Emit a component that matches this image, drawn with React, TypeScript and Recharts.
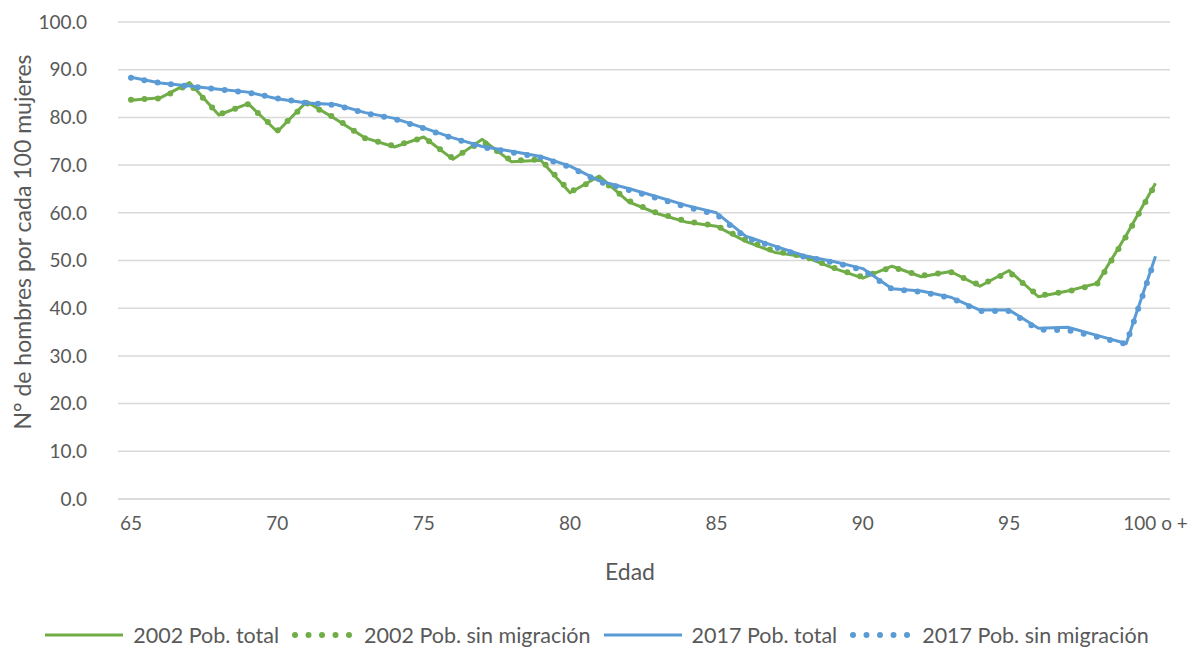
import React from 'react';
import { LineChart, Line, XAxis, YAxis, CartesianGrid, Legend, Label } from 'recharts';

const ages: string[] = [
  '65', '66', '67', '68', '69', '70', '71', '72', '73', '74', '75', '76', '77', '78', '79',
  '80', '81', '82', '83', '84', '85', '86', '87', '88', '89', '90', '91', '92', '93', '94',
  '95', '96', '97', '98', '99', '100 o +',
];

const total2002: number[] = [
  83.6, 84.1, 87.3, 80.5, 82.9, 77.0, 83.3, 79.6, 75.7, 73.8, 75.9, 71.2, 75.4, 70.7, 71.0,
  64.2, 67.7, 62.3, 59.8, 58.0, 57.2, 54.0, 51.7, 50.8, 48.4, 46.3, 48.8, 46.6, 47.7, 44.6,
  47.9, 42.4, 43.6, 45.2, 55.3, 66.2,
];

const sinMig2002: number[] = [
  83.7, 84.0, 87.0, 80.6, 82.8, 77.2, 83.0, 79.8, 75.6, 74.0, 75.8, 71.4, 75.0, 70.9, 71.2,
  64.4, 67.3, 62.5, 59.9, 58.2, 57.3, 54.3, 51.9, 50.9, 48.5, 46.5, 48.6, 46.8, 47.6, 44.8,
  47.6, 42.6, 43.5, 45.0, 55.1, 66.0,
];

const total2017: number[] = [
  88.4, 87.2, 86.6, 85.9, 85.3, 83.9, 83.0, 82.7, 81.0, 79.8, 77.8, 75.7, 73.9, 72.9, 71.8,
  69.8, 66.7, 65.1, 63.3, 61.5, 60.0, 55.1, 53.0, 51.0, 49.8, 48.3, 44.1, 43.6, 42.3, 39.6,
  39.6, 35.8, 36.0, 34.3, 32.6, 50.9,
];

const sinMig2017: number[] = [
  88.3, 87.2, 86.5, 85.9, 85.2, 84.0, 83.0, 82.6, 80.9, 79.7, 77.7, 75.6, 73.8, 72.7, 71.6,
  69.6, 66.5, 64.8, 63.0, 61.2, 59.7, 54.8, 52.8, 50.8, 49.6, 48.0, 44.0, 43.4, 42.2, 39.4,
  39.4, 35.5, 35.4, 34.0, 32.5, 50.6,
];

const yTicks: number[] = [0, 10, 20, 30, 40, 50, 60, 70, 80, 90, 100];

const seriesNames = {
  t2002: '2002 Pob. total',
  s2002: '2002 Pob. sin migración',
  t2017: '2017 Pob. total',
  s2017: '2017 Pob. sin migración',
};

const GREEN = '#70AD47';
const BLUE = '#5B9BD5';
const TEXT = '#595959';
const GRID = '#D9D9D9';
const FONT = 'Lato, Carlito, Calibri, "Noto Sans", sans-serif';
const DOT_DASH = '0 13.5';

const data = ages.map((age, i) => ({
  age,
  t2002: total2002[i],
  s2002: sinMig2002[i],
  t2017: total2017[i],
  s2017: sinMig2017[i],
}));

const SolidIcon = ({ color }: { color: string }) => (
  <svg width={78} height={20} style={{ display: 'block' }}>
    <line x1={0} y1={10} x2={78} y2={10} stroke={color} strokeWidth={3} />
  </svg>
);

const DotIcon = ({ color }: { color: string }) => (
  <svg width={62} height={20} style={{ display: 'block' }}>
    <line
      x1={3}
      y1={10}
      x2={59}
      y2={10}
      stroke={color}
      strokeWidth={6}
      strokeLinecap="round"
      strokeDasharray={DOT_DASH}
    />
  </svg>
);

const LegendContent = () => {
  const items = [
    { key: 't2002', color: GREEN, dotted: false },
    { key: 's2002', color: GREEN, dotted: true },
    { key: 't2017', color: BLUE, dotted: false },
    { key: 's2017', color: BLUE, dotted: true },
  ];
  return (
    <div
      style={{
        display: 'flex',
        justifyContent: 'center',
        alignItems: 'center',
        width: '100%',
        fontFamily: FONT,
        fontSize: 21.5,
        color: TEXT,
      }}
    >
      {items.map((it, i) => (
        <div key={it.key} style={{ display: 'flex', alignItems: 'center', marginRight: i < 3 ? 13 : 0 }}>
          {it.dotted ? <DotIcon color={it.color} /> : <SolidIcon color={it.color} />}
          <span style={{ marginLeft: 10, whiteSpace: 'nowrap' }}>
            {seriesNames[it.key as keyof typeof seriesNames]}
          </span>
        </div>
      ))}
    </div>
  );
};

export default function App() {
  return (
    <div style={{ position: 'absolute', left: 0, top: 0, width: 1194, height: 652, background: '#fff', fontFamily: FONT }}>
      <LineChart
        width={1194}
        height={652}
        data={data}
        margin={{ top: 22, right: 24, bottom: 123, left: 0 }}
      >
        <CartesianGrid horizontal vertical={false} stroke={GRID} strokeWidth={1.5} />
        <XAxis
          dataKey="age"
          height={30}
          interval={4}
          padding={{ left: 13, right: 14.5 }}
          axisLine={{ stroke: GRID, strokeWidth: 1.5 }}
          tickLine={false}
          tickSize={0}
          tickMargin={18}
          tick={{ fontSize: 19, fill: TEXT }}
        >
          <Label
            content={() => (
              <text x={630} y={571} textAnchor="middle" dominantBaseline="central" fill={TEXT} fontSize={23}>
                Edad
              </text>
            )}
          />
        </XAxis>
        <YAxis
          width={118}
          domain={[0, 100]}
          ticks={yTicks}
          interval={0}
          tickFormatter={(v: number) => v.toFixed(1)}
          axisLine={false}
          tickLine={false}
          tickSize={0}
          tickMargin={31}
          tick={{ fontSize: 19, fill: TEXT }}
        >
          <Label
            content={() => (
              <text
                x={22}
                y={242}
                transform="rotate(-90 22 242)"
                textAnchor="middle"
                dominantBaseline="central"
                fill={TEXT}
                fontSize={23}
              >
                N° de hombres por cada 100 mujeres
              </text>
            )}
          />
        </YAxis>
        <Legend
          layout="horizontal"
          verticalAlign="middle"
          align="center"
          content={<LegendContent />}
          wrapperStyle={{ top: 622, left: 0, width: 1194, height: 28 }}
        />
        <Line
          type="linear"
          dataKey="t2002"
          name={seriesNames.t2002}
          stroke={GREEN}
          strokeWidth={3}
          strokeLinejoin="round"
          dot={false}
          activeDot={false}
          isAnimationActive={false}
        />
        <Line
          type="linear"
          dataKey="s2002"
          name={seriesNames.s2002}
          stroke={GREEN}
          strokeWidth={6}
          strokeLinecap="round"
          strokeDasharray={DOT_DASH}
          dot={false}
          activeDot={false}
          isAnimationActive={false}
        />
        <Line
          type="linear"
          dataKey="t2017"
          name={seriesNames.t2017}
          stroke={BLUE}
          strokeWidth={3}
          strokeLinejoin="round"
          dot={false}
          activeDot={false}
          isAnimationActive={false}
        />
        <Line
          type="linear"
          dataKey="s2017"
          name={seriesNames.s2017}
          stroke={BLUE}
          strokeWidth={6}
          strokeLinecap="round"
          strokeDasharray={DOT_DASH}
          dot={false}
          activeDot={false}
          isAnimationActive={false}
        />
      </LineChart>
    </div>
  );
}
